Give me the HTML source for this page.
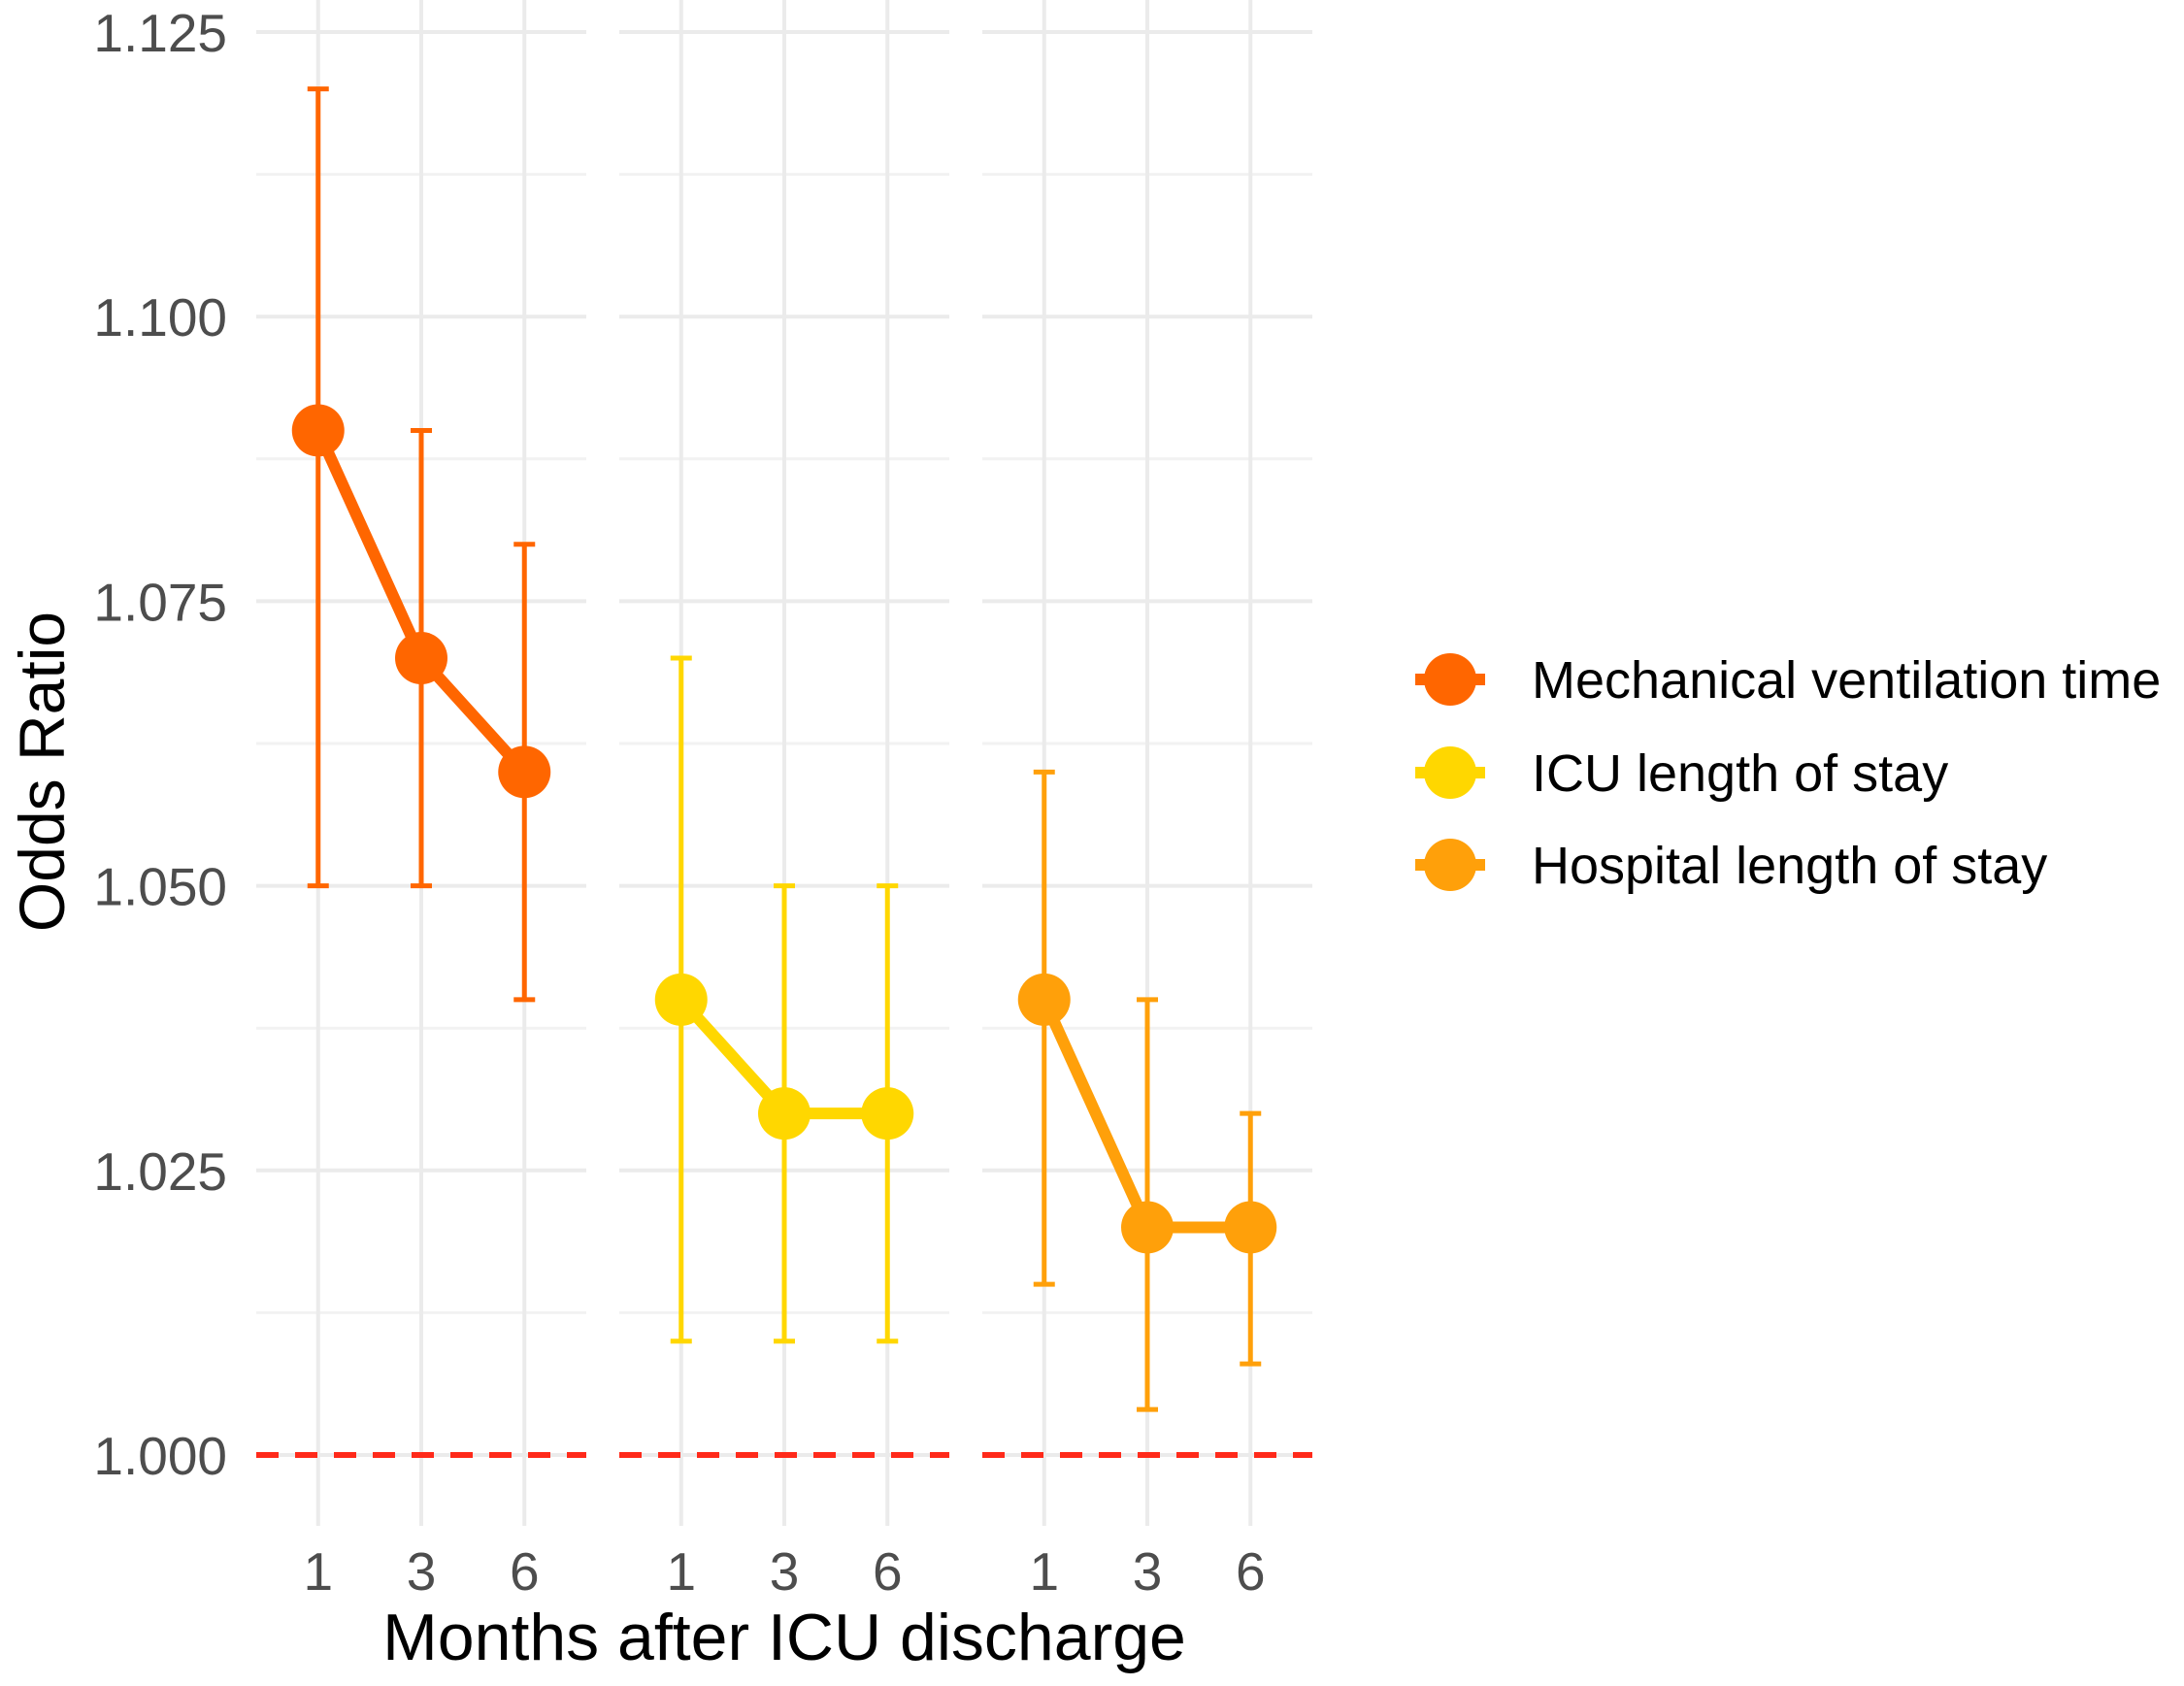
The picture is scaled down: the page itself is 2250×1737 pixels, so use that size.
<!DOCTYPE html>
<html><head><meta charset="utf-8"><style>
html,body{margin:0;padding:0;background:#fff;}
svg{display:block;font-family:"Liberation Sans",Arial,sans-serif;}
</style></head><body>
<svg id="chart" width="2250" height="1737" viewBox="0 0 2250 1737">
<rect x="0" y="0" width="2250" height="1737" fill="#fff"/>
<g id="grid"></g>
<g id="refline"></g>
<g id="marks"></g>
<g id="axes"></g>
<text x="66" y="795" font-size="66" fill="#000" text-anchor="middle" transform="rotate(-90 66 795)">Odds Ratio</text>
<text x="808" y="1710" font-size="68" fill="#000" text-anchor="middle">Months after ICU discharge</text>
<g id="legend"></g>
</svg>
<script>
const series = ["Mechanical ventilation time","ICU length of stay","Hospital length of stay"];
const colors = ["#FF6600","#FFD700","#FFA00A"];
const months = ["1","3","6"];
const est = [[1.09,1.07,1.06],[1.04,1.03,1.03],[1.04,1.02,1.02]];
const lower = [[1.05,1.05,1.04],[1.01,1.01,1.01],[1.015,1.004,1.008]];
const upper = [[1.12,1.09,1.08],[1.07,1.05,1.05],[1.06,1.04,1.03]];
const yTicks = [1.000,1.025,1.050,1.075,1.100,1.125];
const yTickLabels = ["1.000","1.025","1.050","1.075","1.100","1.125"];

const NS="http://www.w3.org/2000/svg";
function mk(tag,attrs,parent){const e=document.createElementNS(NS,tag);for(const k in attrs)e.setAttribute(k,attrs[k]);parent.appendChild(e);return e;}
const y0=1.0,y1=1.125,py0=1499,py1=33;
function Y(v){return py0+(v-y0)/(y1-y0)*(py1-py0);}
const panelLeft=[264,638,1012], panelW=340;
function X(p,i){return panelLeft[p]+(i+0.6)*panelW/3.2;}
const grid=document.getElementById('grid'),ref=document.getElementById('refline'),marks=document.getElementById('marks'),axes=document.getElementById('axes'),legend=document.getElementById('legend');
const gridTop=Y(1.13), gridBot=1572;
for(let p=0;p<3;p++){
  const L=panelLeft[p],R=L+panelW;
  for(let t=0;t<yTicks.length;t++){
    let g=mk('line',{x1:L,x2:R,y1:Y(yTicks[t]),y2:Y(yTicks[t]),stroke:'#ebebeb','stroke-width':4},grid);
    
    
    if(t<yTicks.length-1){
      let m=mk('line',{x1:L,x2:R,y1:Y((yTicks[t]+yTicks[t+1])/2),y2:Y((yTicks[t]+yTicks[t+1])/2),stroke:'#f2f2f2','stroke-width':3},grid);
      
      
    }
  }
  for(let i=0;i<months.length;i++){
    let v=mk('line',{x1:X(p,i),x2:X(p,i),y1:gridTop,y2:gridBot,stroke:'#ebebeb','stroke-width':4},grid);
    
    
    let tl=mk('text',{x:X(p,i),y:1638,'font-size':55,fill:'#4d4d4d','text-anchor':'middle'},axes);
    tl.textContent=months[i];
    
    
  }
  let r=mk('line',{x1:L,x2:R,y1:Y(1),y2:Y(1),stroke:'#FF2A1A','stroke-width':6,'stroke-dasharray':'23 17'},ref);
  
  
  const c=colors[p];
  for(let i=0;i<months.length;i++){
    let e=mk('line',{x1:X(p,i),x2:X(p,i),y1:Y(lower[p][i]),y2:Y(upper[p][i]),stroke:c,'stroke-width':5},marks);
    
    
    for(const v of [lower[p][i],upper[p][i]]){
      let cap=mk('line',{x1:X(p,i)-11,x2:X(p,i)+11,y1:Y(v),y2:Y(v),stroke:c,'stroke-width':5},marks);
      
      
    }
  }
  let pts=months.map((m,i)=>X(p,i)+','+Y(est[p][i])).join(' ');
  let pl=mk('polyline',{points:pts,fill:'none',stroke:c,'stroke-width':12,'stroke-linejoin':'round'},marks);
  
  
  for(let i=0;i<months.length;i++){
    let pt=mk('circle',{cx:X(p,i),cy:Y(est[p][i]),r:27,fill:c},marks);
    
    
  }
}
for(let t=0;t<yTicks.length;t++){
  let tl=mk('text',{x:234,y:Y(yTicks[t])+20,'font-size':55,fill:'#4d4d4d','text-anchor':'end'},axes);
  tl.textContent=yTickLabels[t];
  
  
}
const legY=[700,796,891];
for(let s=0;s<series.length;s++){
  let k=mk('line',{x1:1458,x2:1530,y1:legY[s],y2:legY[s],stroke:colors[s],'stroke-width':12},legend);
  
  
  let kc=mk('circle',{cx:1494,cy:legY[s],r:27,fill:colors[s]},legend);
  
  
  let lt=mk('text',{x:1578,y:legY[s]+19,'font-size':54,fill:'#000'},legend);
  lt.textContent=series[s];
  
  
}
</script>
</body></html>
